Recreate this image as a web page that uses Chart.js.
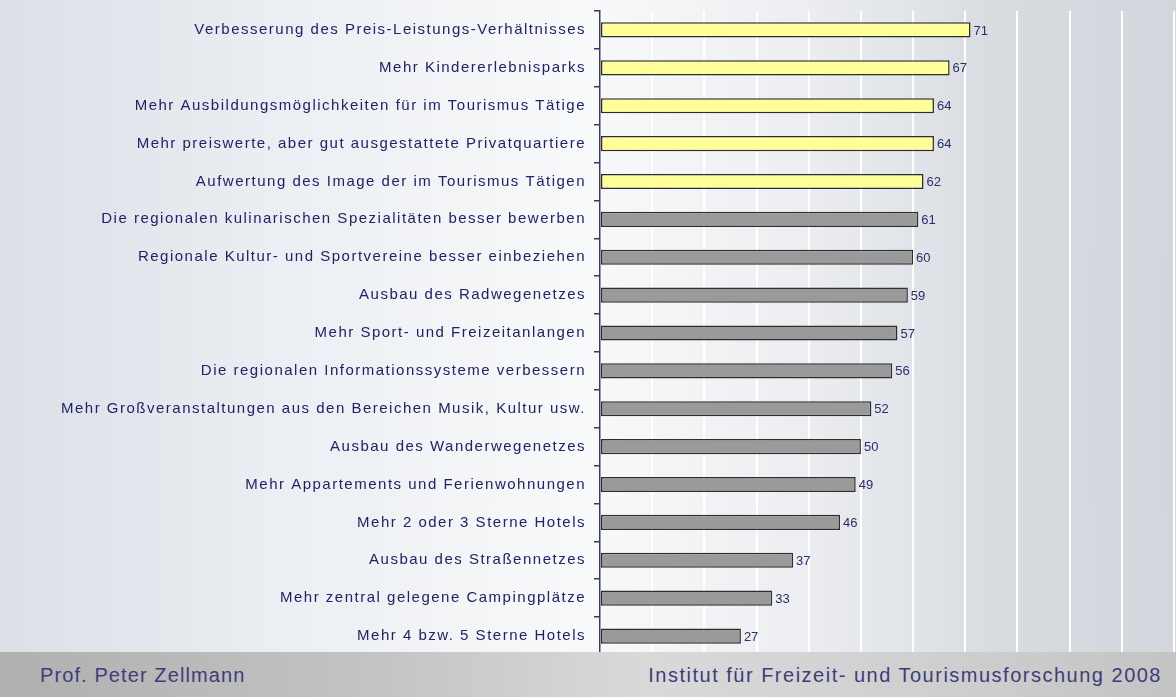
<!DOCTYPE html>
<html>
<head>
<meta charset="utf-8">
<script src="https://cdn.jsdelivr.net/npm/chart.js@4"></script>
<style>
  html, body { margin: 0; padding: 0; }
  body {
    width: 1176px; height: 697px; overflow: hidden; position: relative;
    background: linear-gradient(to right, #dbe0e7 0%, #eceff3 25%, #f8f9fa 50%, #eceef1 68%, #d8dce1 85%, #d3d6dc 100%);
    font-family: "Liberation Sans", Arial, sans-serif;
  }
  #wrap { position: absolute; left: 0; top: 0; width: 1176px; height: 660px; }
  #footer {
    position: absolute; left: 0; top: 652px; width: 1176px; height: 45px;
    background: linear-gradient(to right, #b0b0b0 0%, #c2c2c2 30%, #d9d9d9 55%, #cfcfcf 80%, #c4c4c4 100%);
    color: #3d3d7a; font-size: 20px;
  }
  #footer span { position: absolute; top: 12px; }
</style>
</head>
<body>
<div id="wrap"><canvas id="myChart" width="1176" height="660"></canvas></div>
<div id="footer">
  <span style="left:40px; letter-spacing:1.1px">Prof. Peter Zellmann</span>
  <span style="right:14px; letter-spacing:1.5px">Institut für Freizeit- und Tourismusforschung 2008</span>
</div>
<script>
// Kategorien und Werte (in %)
const categories = [
  'Verbesserung des Preis-Leistungs-Verhältnisses',
  'Mehr Kindererlebnisparks',
  'Mehr Ausbildungsmöglichkeiten für im Tourismus Tätige',
  'Mehr preiswerte, aber gut ausgestattete Privatquartiere',
  'Aufwertung des Image der im Tourismus Tätigen',
  'Die regionalen kulinarischen Spezialitäten besser bewerben',
  'Regionale Kultur- und Sportvereine besser einbeziehen',
  'Ausbau des Radwegenetzes',
  'Mehr Sport- und Freizeitanlangen',
  'Die regionalen Informationssysteme verbessern',
  'Mehr Großveranstaltungen aus den Bereichen Musik, Kultur usw.',
  'Ausbau des Wanderwegenetzes',
  'Mehr Appartements und Ferienwohnungen',
  'Mehr 2 oder 3 Sterne Hotels',
  'Ausbau des Straßennetzes',
  'Mehr zentral gelegene Campingplätze',
  'Mehr 4 bzw. 5 Sterne Hotels',
];
const values = [71, 67, 64, 64, 62, 61, 60, 59, 57, 56, 52, 50, 49, 46, 37, 33, 27];
// die ersten fünf sind gelb hervorgehoben
const highlighted = [true, true, true, true, true, false, false, false, false, false, false, false, false, false, false, false, false];

const yellow = '#ffff99';
const grey = '#9a9a9a';

// Buchstabenabstand für die Achsenbeschriftung
const spacingPlugin = {
  id: 'spacing',
  beforeDraw(chart) {
    chart.ctx.letterSpacing = '1.5px';
  },
};

// Zahlen rechts neben den Balken
const valueLabels = {
  id: 'valueLabels',
  afterDatasetsDraw(chart) {
    const ctx = chart.ctx;
    const meta = chart.getDatasetMeta(0);
    ctx.save();
    ctx.letterSpacing = '0px';
    ctx.font = '13px "Liberation Sans", Arial, sans-serif';
    ctx.fillStyle = '#2c2c6c';
    ctx.textAlign = 'left';
    ctx.textBaseline = 'middle';
    meta.data.forEach((bar, i) => {
      ctx.fillText(values[i], bar.x + 3, bar.y + 1);
    });
    ctx.restore();
  },
};

const ctx = document.getElementById('myChart').getContext('2d');
const chart = new Chart(ctx, {
  type: 'bar',
  data: {
    labels: categories,
    datasets: [{
      data: values,
      backgroundColor: highlighted.map(h => h ? yellow : grey),
      borderColor: '#2e2e2e',
      borderWidth: 1.5,
      borderSkipped: false,
      barPercentage: 0.4,
      categoryPercentage: 1,
    }],
  },
  options: {
    indexAxis: 'y',
    responsive: false,
    animation: false,
    devicePixelRatio: 1,
    layout: { padding: { top: 11, right: 2, left: 0, bottom: 5 } },
    plugins: {
      legend: { display: false },
      tooltip: { enabled: false },
    },
    scales: {
      x: {
        min: 0,
        max: 110,
        ticks: { display: false, stepSize: 10 },
        grid: { color: '#ffffff', lineWidth: 2, drawTicks: false },
        border: { display: false },
        afterFit(scale) { scale.height = 0; },
      },
      y: {
        ticks: {
          autoSkip: false,
          color: '#222266',
          padding: 8,
          font: { family: '"Liberation Sans", Arial, sans-serif', size: 15 },
        },
        grid: {
          drawOnChartArea: false,
          drawTicks: true,
          tickLength: 6,
          color: '#3a3a5e',
          lineWidth: 1.5,
        },
        border: { color: '#3a3a5e', width: 1.5 },
        afterFit(scale) {
          scale.width = 600;
          scale.paddingTop = 0;
          scale.paddingBottom = 0;
        },
      },
    },
  },
  plugins: [spacingPlugin, valueLabels],
});
</script>
</body>
</html>
